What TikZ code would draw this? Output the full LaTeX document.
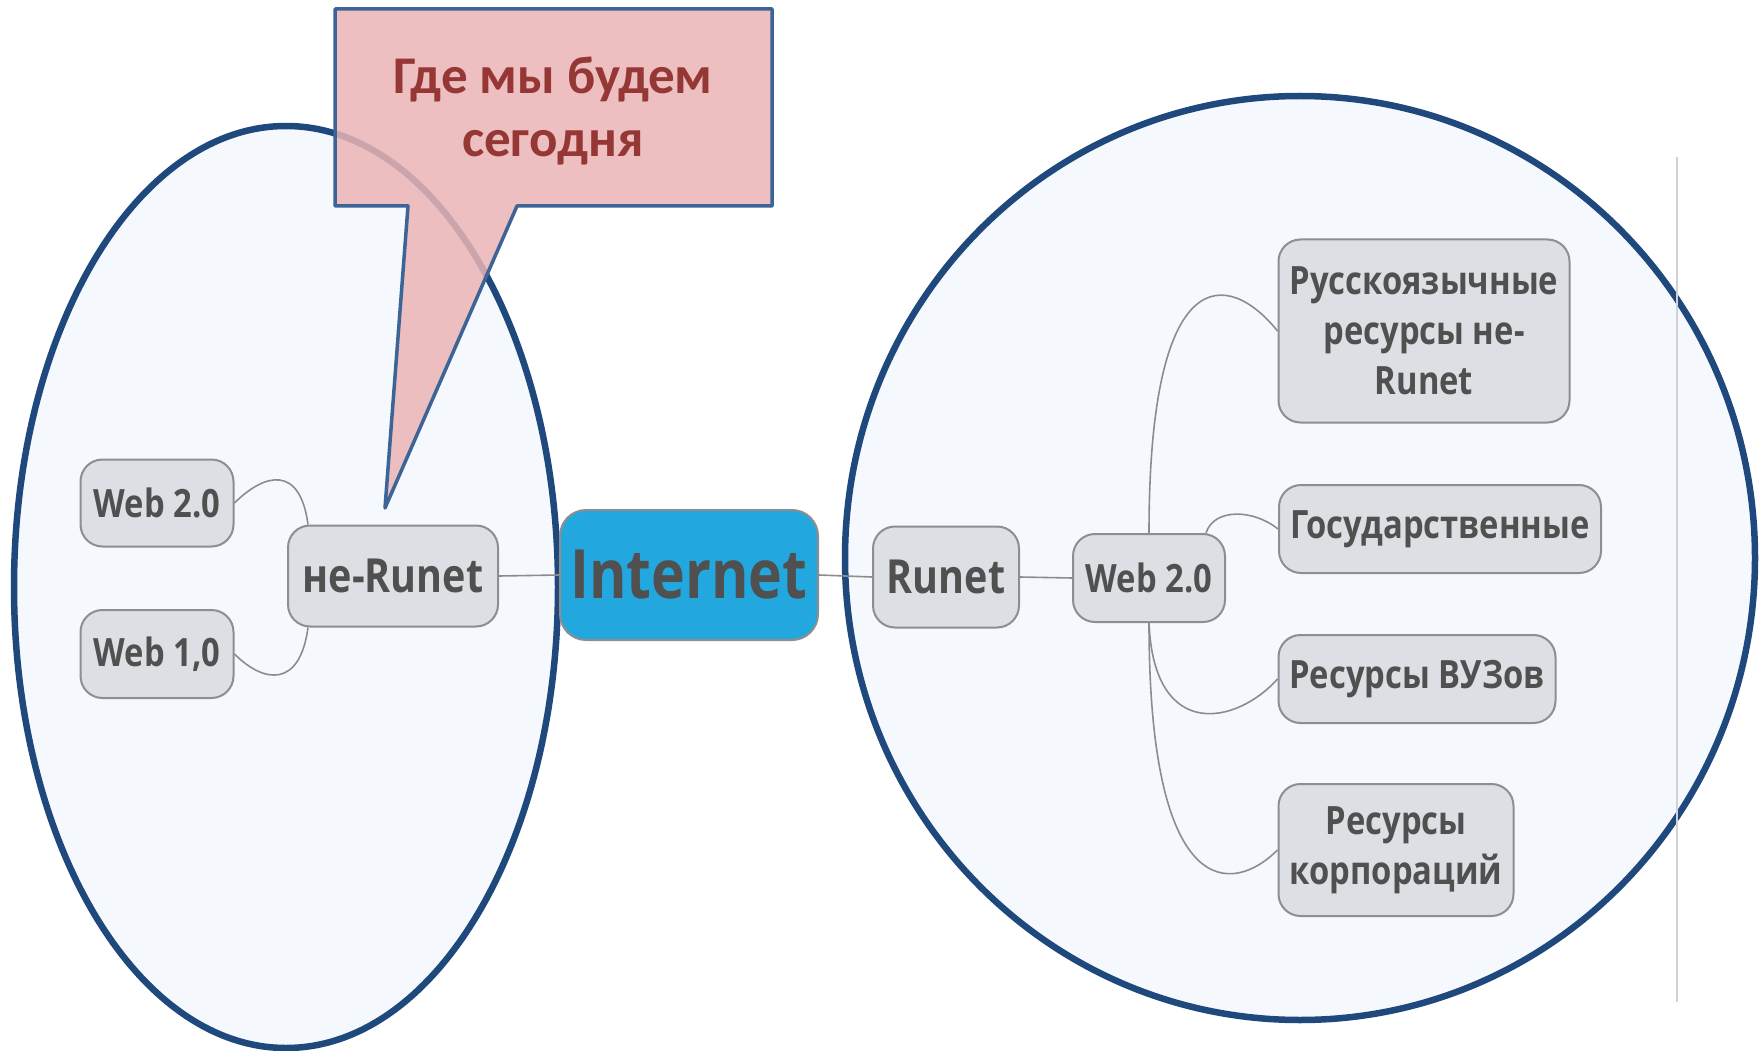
\documentclass[tikz,border=0pt]{standalone}
\usepackage{fontspec}
\setmainfont{Open Sans}
\newfontfamily\mapfont[FakeStretch=0.84]{Open Sans}
\newfontfamily\callfont{Carlito}
\definecolor{zoneblue}{HTML}{1F497D}
\definecolor{zonefill}{HTML}{F5F9FD}
\definecolor{nodefill}{HTML}{DCDFE3}
\definecolor{nodeline}{HTML}{8E8E8E}
\definecolor{nodetext}{HTML}{505050}
\definecolor{netblue}{HTML}{22A8DF}
\definecolor{linkgray}{HTML}{8C8C8C}
\definecolor{callfill}{HTML}{EBB4B5}
\definecolor{callline}{HTML}{3C6496}
\definecolor{calltext}{HTML}{953735}
\tikzset{
    zone/.style={draw=zoneblue,line width=6.5pt,fill=zonefill},
    topic/.style={draw=nodeline,fill=nodefill,line width=2pt,rounded corners=22pt,
        text=nodetext,align=center,inner sep=0pt,
        font={\mapfont\bfseries\fontsize{39}{50}\selectfont}},
    central/.style={topic,fill=netblue,rounded corners=26pt,
        font={\mapfont\bfseries\fontsize{68}{80}\selectfont}},
    mainsub/.style={topic,font={\mapfont\bfseries\fontsize{47}{50}\selectfont}},
    branch/.style={draw=linkgray,line width=1.6pt}
}
\begin{document}
\begin{tikzpicture}[x=1pt,y=-1pt]
    \useasboundingbox (0,0) rectangle (1762,1051);
    % the two zones
    \draw[zone] (286,587) ellipse (272 and 461);
    \draw[zone] (1300,558) ellipse (455 and 462);
    \draw[draw=black!18,line width=1.5pt] (1677,157) -- (1677,1002);

    % centre and main topics
    \node[central,minimum width=258,minimum height=130] (internet) at (689,575) {Internet};
    \node[mainsub,minimum width=210,minimum height=101] (nerunet) at (393,576) {не-Runet};
    \node[mainsub,minimum width=146,minimum height=101] (runet) at (946,577) {Runet};

    % left side
    \node[topic,minimum width=153,minimum height=87] (lweba) at (157,503) {Web 2.0};
    \node[topic,minimum width=153,minimum height=88] (lwebb) at (157,654) {Web 1,0};

    % right side
    \node[topic,minimum width=152,minimum height=88] (rweb) at (1149,578) {Web 2.0};
    \node[topic,minimum width=291,minimum height=183] (rus) at (1424,331) {Русскоязычные\\ресурсы не-\\Runet};
    \node[topic,minimum width=322,minimum height=88] (gos) at (1440,529) {Государственные};
    \node[topic,minimum width=277,minimum height=88] (vuz) at (1417,679) {Ресурсы ВУЗов};
    \node[topic,minimum width=235,minimum height=132] (korp) at (1396,850) {Ресурсы\\корпораций};

    % links
    \draw[branch] (nerunet.east) -- (internet.west);
    \draw[branch] (internet.east) -- (runet.west);
    \draw[branch] (runet.east) -- (rweb.west);
    \draw[branch] ([xshift=21]nerunet.north west) .. controls +(-8,-60) and +(30,-30) .. (lweba.east);
    \draw[branch] ([xshift=21]nerunet.south west) .. controls +(-8,60) and +(30,30) .. (lwebb.east);
    \draw[branch] (rweb.north) .. controls +(0,-275) and +(-49,-61) .. (rus.west);
    \draw[branch] ([xshift=-20]rweb.north east) .. controls +(8,-25) and +(-25,-20) .. (gos.west);
    \draw[branch] (rweb.south) .. controls +(5,120) and +(-40,45) .. (vuz.west);
    \draw[branch] (rweb.south) .. controls +(0,280) and +(-45,45) .. (korp.west);

    % callout
    \draw[draw=callline,line width=3.5pt,fill=callfill,fill opacity=0.85,line join=round]
        (335,9) -- (772,9) -- (772,206) -- (517,206) -- (385,508) -- (408,206) -- (335,206) -- cycle;
    \node[text=calltext,align=center,font={\callfont\bfseries\fontsize{53}{63}\selectfont}]
        (calltitle) at (553,111) {Где мы будем\\сегодня};
\end{tikzpicture}
\end{document}
